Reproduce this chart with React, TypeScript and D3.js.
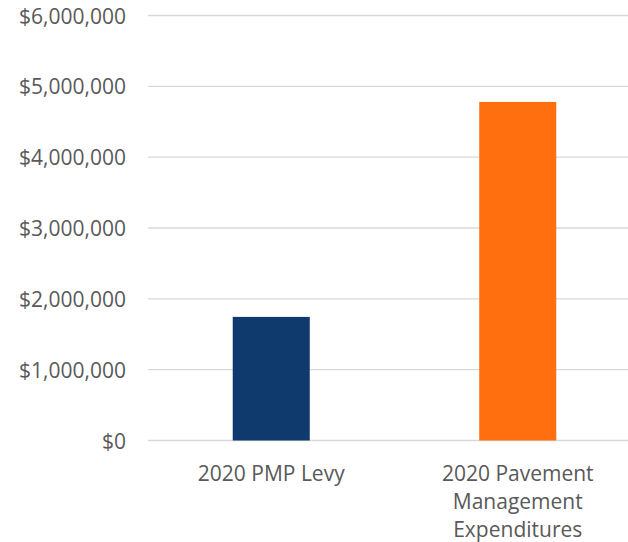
import React, { useRef, useEffect } from "react";
import * as d3 from "d3";

// chart values
const categories = ["2020 PMP Levy", "2020 Pavement Management Expenditures"];
const categoryLines = [["2020 PMP Levy"], ["2020 Pavement", "Management", "Expenditures"]];
const values = [1745000, 4780000];
const barColors = ["#0F3A6E", "#FF6F10"];
const yTicks = [0, 1000000, 2000000, 3000000, 4000000, 5000000, 6000000];

function App() {
  const svgRef = useRef<SVGSVGElement>(null);

  useEffect(() => {
    const width = 628,
      height = 542;
    const svg = d3.select(svgRef.current);
    svg.selectAll("*").remove();

    const font = "'Open Sans', sans-serif";
    const textColor = "#595959";

    const y = d3.scaleLinear().domain([0, 6000000]).range([440.5, 15.5]);
    const x = d3
      .scaleBand<string>()
      .domain(categories)
      .range([148, 641])
      .paddingInner(0.6875)
      .paddingOuter(0.34375);

    const fmt = (v: number) => "$" + d3.format(",")(v);

    // gridlines
    svg
      .append("g")
      .selectAll("line")
      .data(yTicks)
      .join("line")
      .attr("x1", 148)
      .attr("x2", width)
      .attr("y1", (d) => y(d))
      .attr("y2", (d) => y(d))
      .attr("stroke", "#d9d9d9")
      .attr("stroke-width", 1.3);

    // y labels
    svg
      .append("g")
      .selectAll("text")
      .data(yTicks)
      .join("text")
      .attr("x", 126)
      .attr("y", (d) => y(d) + 8)
      .attr("text-anchor", "end")
      .attr("font-family", font)
      .attr("font-size", 21)
      .attr("fill", textColor)
      .text((d) => fmt(d));

    // bars
    svg
      .append("g")
      .selectAll("rect")
      .data(values)
      .join("rect")
      .attr("x", (d, i) => x(categories[i])!)
      .attr("width", x.bandwidth())
      .attr("y", (d) => y(d))
      .attr("height", (d) => y(0) - y(d))
      .attr("fill", (d, i) => barColors[i]);

    // category labels
    const lab = svg
      .append("g")
      .selectAll("text")
      .data(categories)
      .join("text")
      .attr("text-anchor", "middle")
      .attr("font-family", font)
      .attr("font-size", 21)
      .attr("fill", textColor);
    lab
      .selectAll("tspan")
      .data((d, i) => categoryLines[i].map((t) => ({ t, c: d })))
      .join("tspan")
      .attr("x", (d) => x(d.c)! + x.bandwidth() / 2)
      .attr("y", (d, j) => 481 + j * 28)
      .text((d) => d.t);
  }, []);

  return (
    <svg
      ref={svgRef}
      width={628}
      height={542}
      style={{ position: "absolute", left: 0, top: 0, background: "#fff" }}
    />
  );
}

export default App;
